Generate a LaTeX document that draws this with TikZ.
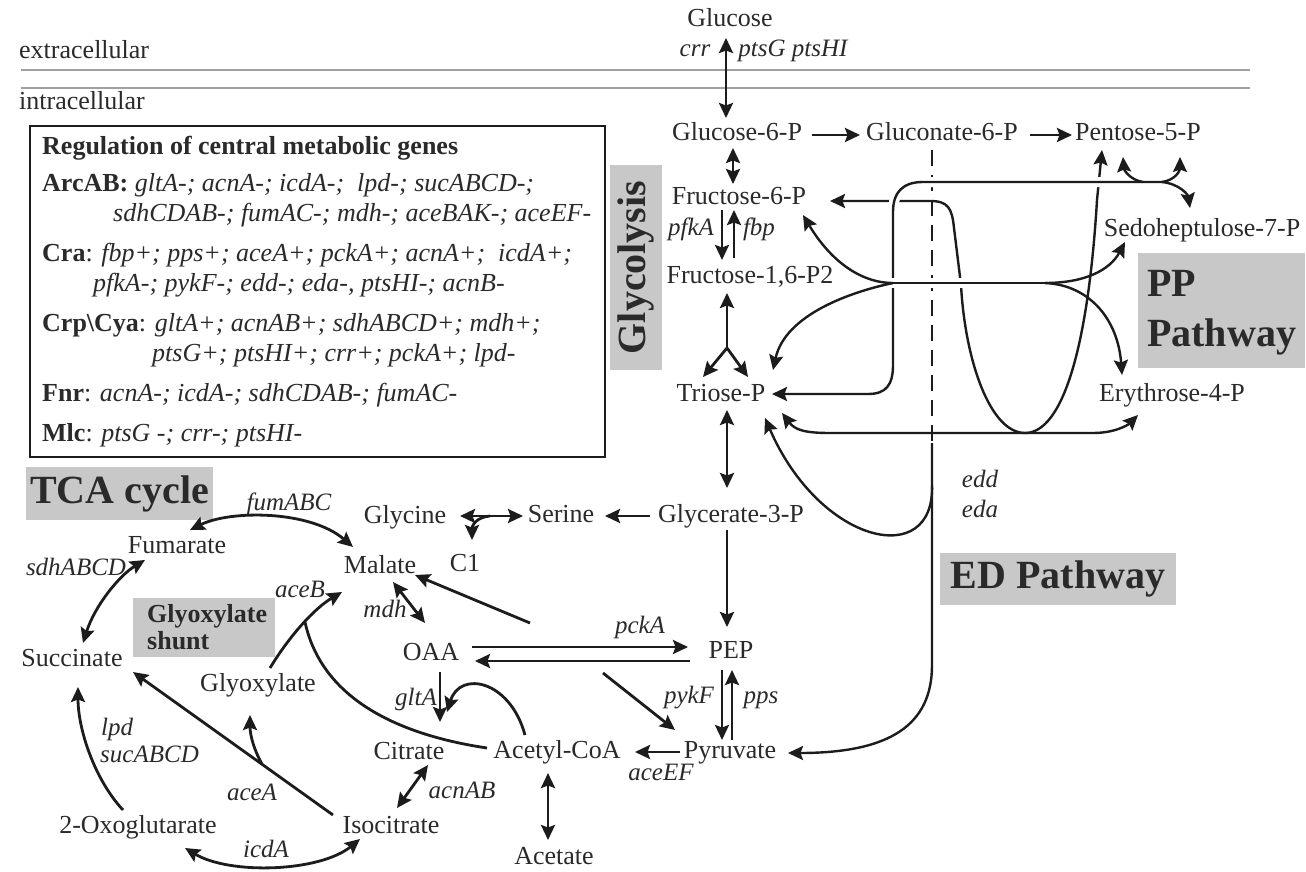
\documentclass[tikz,border=0pt]{standalone}
\usepackage{fontspec}
\setmainfont{Liberation Serif}
\usetikzlibrary{arrows.meta}
\definecolor{ink}{HTML}{2A2A2A}
\definecolor{wire}{HTML}{1C1C1C}
\definecolor{tag}{HTML}{C8C8C8}
\definecolor{membrane}{HTML}{A0A0A0}
\begin{document}
\begin{tikzpicture}[x=1pt,y=-1pt,
  >={Stealth[length=15pt,width=14pt,inset=2.5pt]},
  met/.style={font=\fontsize{26}{28}\selectfont, text=ink, inner sep=0pt, text height=17pt, text depth=5pt},
  gene/.style={font=\fontsize{25}{27}\selectfont\itshape, text=ink, inner sep=0pt, text height=16pt, text depth=5pt},
  rx/.style={draw=wire, line width=2.8pt},
  pp/.style={draw=wire, line width=2.4pt},
  gap/.style={preaction={draw=white, line width=10pt, -}},
  hdr/.style={font=\fontsize{40}{44}\selectfont\bfseries, text=ink, inner sep=0pt},
  shunt/.style={font=\fontsize{26}{28}\selectfont\bfseries, text=ink, inner sep=0pt},
  reg/.style={font=\fontsize{26}{28}\selectfont, text=ink, inner sep=0pt, anchor=west, text height=17pt, text depth=5pt},
]
\fill[white] (0,0) rectangle (1306,872);
\useasboundingbox (0,0) rectangle (1306,872);

% ---------- membrane ----------
\draw[membrane, line width=1.6pt] (21,70) -- (1250,70);
\draw[membrane, line width=1.6pt] (21,88) -- (1250,88);
\node[met, anchor=west] (extra) at (19,53) {extracellular};
\node[met, anchor=west] (intra) at (19,104) {intracellular};

% ---------- regulation box ----------
\draw[wire, line width=2.8pt] (30,126) rectangle (605,457);
\node[reg] (r0) at (42,148) {\textbf{Regulation of central metabolic genes}};
\node[reg] (r1) at (42,185) {\textbf{ArcAB:} \textit{gltA-; acnA-; icdA-;\ \ lpd-; sucABCD-;}};
\node[reg] (r2) at (113,215) {\textit{sdhCDAB-; fumAC-; mdh-; aceBAK-; aceEF-}};
\node[reg] (r3) at (42,255) {\textbf{Cra}: \textit{fbp+; pps+; aceA+; pckA+; acnA+;\ \ icdA+;}};
\node[reg] (r4) at (93,285) {\textit{pfkA-; pykF-; edd-; eda-, ptsHI-; acnB-}};
\node[reg] (r5) at (42,325) {\textbf{Crp\textbackslash Cya}: \textit{gltA+; acnAB+; sdhABCD+; mdh+;}};
\node[reg] (r6) at (152,355) {\textit{ptsG+; ptsHI+; crr+; pckA+; lpd-}};
\node[reg] (r7) at (42,395) {\textbf{Fnr}: \textit{acnA-; icdA-; sdhCDAB-; fumAC-}};
\node[reg] (r8) at (42,435) {\textbf{Mlc}: \textit{ptsG -; crr-; ptsHI-}};

% ---------- pathway tags ----------
\node[hdr, fill=tag, rotate=90, minimum width=205pt, minimum height=52pt] (glycol) at (636,267.5) {Glycolysis};
\node[hdr, fill=tag, minimum width=187pt, minimum height=53pt] (tca) at (119.5,493.5) {TCA cycle};
\node[hdr, fill=tag, minimum width=236pt, minimum height=52pt] (edp) at (1058,579) {ED Pathway};
\node[fill=tag, inner sep=0pt, minimum width=167pt, minimum height=115pt] (ppbox) at (1221.5,310.5) {};
\node[hdr, anchor=base west] (pp1) at (1147,296) {PP};
\node[hdr, anchor=base west] (pp2) at (1147,346) {Pathway};
\node[fill=tag, inner sep=0pt, minimum width=142pt, minimum height=59pt] (shuntbox) at (204,627.5) {};
\node[shunt, anchor=base west] (sh1) at (147,622) {Glyoxylate};
\node[shunt, anchor=base west] (sh2) at (147,649) {shunt};

% ---------- metabolites ----------
\node[met] (glc) at (730,21) {Glucose};
\node[met] (g6p) at (737,135) {Glucose-6-P};
\node[met] (gluc) at (942,135) {Gluconate-6-P};
\node[met] (pent) at (1138,135) {Pentose-5-P};
\node[met] (f6p) at (739,198) {Fructose-6-P};
\node[met] (f16) at (750,277) {Fructose-1,6-P2};
\node[met] (triose) at (721,395) {Triose-P};
\node[met] (sedo) at (1202,230) {Sedoheptulose-7-P};
\node[met] (eryth) at (1172,395) {Erythrose-4-P};
\node[met] (gly3p) at (731,516) {Glycerate-3-P};
\node[met] (serine) at (561,516) {Serine};
\node[met] (glycine) at (405,517) {Glycine};
\node[met] (c1) at (465,565) {C1};
\node[met] (pep) at (731,652) {PEP};
\node[met] (oaa) at (431,654) {OAA};
\node[met] (pyr) at (730,752) {Pyruvate};
\node[met] (accoa) at (557,752) {Acetyl-CoA};
\node[met] (acetate) at (554,858) {Acetate};
\node[met] (citrate) at (409,753) {Citrate};
\node[met] (isocit) at (391,827) {Isocitrate};
\node[met] (oxo) at (138,827) {2-Oxoglutarate};
\node[met] (succ) at (72,660) {Succinate};
\node[met] (fum) at (177,547) {Fumarate};
\node[met] (malate) at (380,567) {Malate};
\node[met] (glyox) at (258,685) {Glyoxylate};

% ---------- genes ----------
\node[gene] (crr) at (695,51) {crr};
\node[gene] (pts) at (793,51) {ptsG ptsHI};
\node[gene] (pfka) at (691,230) {pfkA};
\node[gene] (fbp) at (759,230) {fbp};
\node[gene] (pcka) at (640,628) {pckA};
\node[gene] (pykf) at (689,698) {pykF};
\node[gene] (pps) at (761,698) {pps};
\node[gene] (aceef) at (661,775) {aceEF};
\node[gene] (glta) at (416,700) {gltA};
\node[gene] (acnab) at (462,793) {acnAB};
\node[gene] (icda) at (266,852) {icdA};
\node[gene] (acea) at (252,795) {aceA};
\node[gene, anchor=west] (lpd) at (101,730) {lpd};
\node[gene, anchor=west] (suc) at (100,757) {sucABCD};
\node[gene] (sdh) at (76,570) {sdhABCD};
\node[gene] (fumabc) at (289,505) {fumABC};
\node[gene] (aceb) at (300,592) {aceB};
\node[gene] (mdh) at (385,612) {mdh};
\node[gene] (edd) at (980,482) {edd};
\node[gene] (eda) at (980,512) {eda};

% ---------- junction points ----------
\coordinate (yfork) at (727,348);
\coordinate (gsj) at (490,516);
\coordinate (dstart) at (603,673);
\coordinate (mstart) at (530,623);
\coordinate (aceBj) at (305,622);
\coordinate (acej) at (262,764);
\coordinate (pjL) at (1143,182);
\coordinate (pjR) at (1162,182);
\coordinate (fork) at (893,283);
\coordinate (cfork) at (1045,283);
\coordinate (edtop) at (932,443);
\coordinate (edj) at (932,485);

% ---------- glycolysis ----------
\draw[rx,<->] ([shift={(-4,17)}]glc.center) -- ([shift={(-11,-17)}]g6p.center);
\draw[rx,->] ([shift={(75,0)}]g6p.center) -- ([shift={(-82,0)}]gluc.center);
\draw[rx,->] ([shift={(88,0)}]gluc.center) -- ([shift={(-66,0)}]pent.center);
\draw[rx,<->] ([shift={(-4,13)}]g6p.center) -- ([shift={(-6,-14)}]f6p.center);
\draw[rx,->] ([shift={(-17,12)}]f6p.center) -- ([shift={(-28,-17)}]f16.center);
\draw[rx,->] ([shift={(-16,-19)}]f16.center) -- ([shift={(-5,12)}]f6p.center);
\draw[rx,->] (yfork) -- ([shift={(-23,16)}]f16.center);
\draw[rx,->] (yfork) -- ([shift={(-18,-18)}]triose.center);
\draw[rx,->] (yfork) -- ([shift={(27,-18)}]triose.center);
\draw[rx,<->] ([shift={(6,15)}]triose.center) -- ([shift={(-4,-28)}]gly3p.center);
\draw[rx,->] ([shift={(-4,14)}]gly3p.center) -- ([shift={(-4,-25)}]pep.center);
\draw[rx,->] ([shift={(-81,0)}]gly3p.center) -- ([shift={(44,0)}]serine.center);
\draw[rx,<->] ([shift={(55,-1)}]glycine.center) -- ([shift={(-38,0)}]serine.center);
\draw[rx,->] (gsj) .. controls (476,517) and (472,526) .. ([shift={(7,-25)}]c1.center);

% ---------- PEP / pyruvate node ----------
\draw[rx,->] ([shift={(41,-7)}]oaa.center) -- ([shift={(-43,-5)}]pep.center);
\draw[rx,->] ([shift={(-41,9)}]pep.center) -- ([shift={(44,7)}]oaa.center);
\draw[rx,->] ([shift={(-9,18)}]pep.center) -- ([shift={(-8,-12)}]pyr.center);
\draw[rx,->] ([shift={(2,-12)}]pyr.center) -- ([shift={(1,18)}]pep.center);
\draw[rx,->] ([shift={(-50,0)}]pyr.center) -- ([shift={(78,0)}]accoa.center);
\draw[rx,<->] ([shift={(-9,21)}]accoa.center) -- ([shift={(-6,-18)}]acetate.center);
\draw[rx,->] (dstart) -- ([shift={(-55,-22)}]pyr.center);
\draw[rx,->] (mstart) -- ([shift={(35,8)}]malate.center);

% ---------- TCA cycle ----------
\draw[rx,<->] ([shift={(13,15)}]malate.center) -- ([shift={(-6,-31)}]oaa.center);
\draw[rx,->] ([shift={(9,18)}]oaa.center) -- ([shift={(31,-31)}]citrate.center);
\draw[rx,->] ([shift={(-32,-17)}]accoa.center) .. controls (510,680) and (460,670) .. ([shift={(38,-41)}]citrate.center);
\draw[rx,<->] ([shift={(6,-19)}]isocit.center) -- ([shift={(19,12)}]citrate.center);
\draw[rx] ([shift={(-70,-4)}]accoa.center) .. controls (400,735) and (322,700) .. (aceBj);
\draw[rx,->] ([shift={(12,-17)}]glyox.center) .. controls (290,635) and (315,608) .. ([shift={(-38,25)}]malate.center);
\draw[rx,->] ([shift={(-58,-12)}]isocit.center) -- ([shift={(61,12)}]succ.center);
\draw[rx,->] (acej) .. controls (254,750) and (250,735) .. ([shift={(-8,30)}]glyox.center);
\draw[rx,->] ([shift={(-15,-17)}]oxo.center) .. controls (95,780) and (78,730) .. ([shift={(6,27)}]succ.center);
\draw[rx,<->] ([shift={(-31,12)}]isocit.center) .. controls (320,872) and (230,875) .. ([shift={(47,21)}]oxo.center);
\draw[rx,<->] ([shift={(11,-17)}]succ.center) .. controls (95,605) and (120,575) .. ([shift={(-32,13)}]fum.center);
\draw[rx,<->] ([shift={(13,-17)}]fum.center) .. controls (230,510) and (310,510) .. ([shift={(-27,-20)}]malate.center);

% ---------- pentose phosphate and ED routes ----------
\draw[pp, dash pattern=on 16pt off 9pt] ([shift={(-10,15)}]gluc.center) -- (edtop);
% transketolase loop: Fructose-6-P <-> Pentose-5-P
\draw[pp,<->] ([shift={(91,3)}]f6p.center) -- (930,201) .. controls (948,201) and (952,208) .. (954,228)
  -- (961,285) .. controls (965,360) and (990,433) .. (1025,433)
  .. controls (1062,433) and (1088,350) .. (1097,200) -- ([shift={(-36,15)}]pent.center);
% Triose-P <-> Pentose-5-P / Sedoheptulose-7-P
\draw[pp,gap,<-] ([shift={(51,-1)}]triose.center) -- (868,394) .. controls (886,394) and (893,385) .. (893,365)
  -- (893,212) .. controls (893,192) and (903,182) .. (923,182) -- (pjR);
\draw[pp,->] (pjL) .. controls (1130,180) and (1124,170) .. ([shift={(-15,22)}]pent.center);
\draw[pp,->] (pjR) .. controls (1176,180) and (1180,170) .. ([shift={(42,22)}]pent.center);
\draw[pp,->] (pjR) .. controls (1180,184) and (1188,195) .. ([shift={(-12,-22)}]sedo.center);
% transaldolase fork
\draw[pp,gap] (887,283) -- (1048,283);
\draw[pp,->] (fork) .. controls (860,283) and (830,260) .. ([shift={(64,17)}]f6p.center);
\draw[pp,->] (fork) .. controls (850,292) and (785,315) .. ([shift={(52,-25)}]triose.center);
\draw[pp,->] (cfork) .. controls (1085,283) and (1110,270) .. ([shift={(-77,12)}]sedo.center);
\draw[pp,->] (cfork) .. controls (1090,285) and (1118,320) .. ([shift={(-50,-20)}]eryth.center);
% Triose-P <-> Erythrose-4-P
\draw[pp,<->] ([shift={(61,18)}]triose.center) .. controls (795,430) and (805,433) .. (830,433)
  -- (1093,433) .. controls (1115,433) and (1128,425) .. ([shift={(-34,20)}]eryth.center);
% Entner-Doudoroff
\draw[pp,->] (edtop) -- (932,665) .. controls (932,725) and (890,753) .. ([shift={(58,1)}]pyr.center);
\draw[pp,->] (edj) .. controls (935,570) and (820,545) .. ([shift={(44,23)}]triose.center);
\end{tikzpicture}
\end{document}
